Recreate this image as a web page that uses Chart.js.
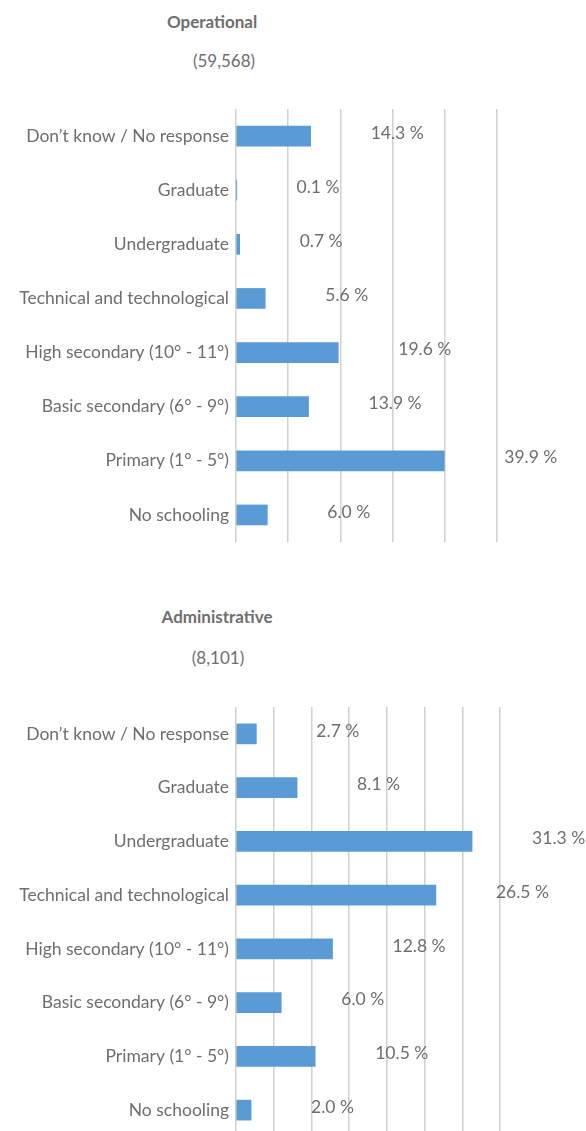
<!DOCTYPE html>
<html>
<head>
<meta charset="utf-8">
<script src="https://cdn.jsdelivr.net/npm/chart.js@4.4.0/dist/chart.umd.min.js"></script>
<style>
  html, body { margin: 0; padding: 0; background: #fff; overflow: hidden; }
  body { width: 586px; height: 1131px; position: relative; font-family: Lato, sans-serif; color: #6e6e6e; }
  .title, .sub { position: absolute; text-align: center; font-size: 17px; line-height: 20px; }
  .title { font-weight: bold; }
  .box { position: absolute; left: 0; width: 586px; }
</style>
</head>
<body>
<div class="title" style="top:12px;left:0;width:424px">Operational</div>
<div class="sub" style="top:51px;left:0;width:448px">(59,568)</div>
<div class="box" style="top:100px"><canvas id="chartOp" width="586" height="450"></canvas></div>

<div class="title" style="top:607px;left:0;width:434px">Administrative</div>
<div class="sub" style="top:648px;left:0;width:436px">(8,101)</div>
<div class="box" style="top:700px"><canvas id="chartAdm" width="586" height="440"></canvas></div>

<script>
const categories = [
  "Don’t know / No response",
  "Graduate",
  "Undergraduate",
  "Technical and technological",
  "High secondary (10° - 11°)",
  "Basic secondary (6° - 9°)",
  "Primary (1° - 5°)",
  "No schooling"
];
const operationalValues = [14.3, 0.1, 0.7, 5.6, 19.6, 13.9, 39.9, 6.0];
const administrativeValues = [2.7, 8.1, 31.3, 26.5, 12.8, 6.0, 10.5, 2.0];
const operationalAxis = { max: 50, step: 10 };
const administrativeAxis = { max: 35, step: 5 };

const TEXT = "#6e6e6e";
const BAR = "#5b9bd5";
const GRID = "#d0d0d0";
const FONT_SIZE = 17.5;

// percentage labels to the right of each bar
const valueLabels = {
  id: "valueLabels",
  afterDatasetsDraw(chart) {
    const ctx = chart.ctx;
    const values = chart.data.datasets[0].data;
    ctx.save();
    ctx.font = FONT_SIZE + "px Lato";
    ctx.fillStyle = TEXT;
    ctx.textAlign = "left";
    ctx.textBaseline = "middle";
    chart.getDatasetMeta(0).data.forEach((bar, i) => {
      ctx.fillText(values[i].toFixed(1) + " %", bar.x + 60, bar.y - 3);
    });
    ctx.restore();
  }
};

function makeChart(id, values, axis, padding) {
  return new Chart(document.getElementById(id), {
    type: "bar",
    data: {
      labels: categories,
      datasets: [{ data: values, backgroundColor: BAR, barThickness: 20 }]
    },
    options: {
      indexAxis: "y",
      responsive: false,
      animation: false,
      layout: { padding: padding },
      plugins: { legend: { display: false }, tooltip: { enabled: false } },
      scales: {
        x: {
          min: 0,
          max: axis.max,
          afterFit(scale) { scale.height = 0; },
          ticks: { display: false, stepSize: axis.step },
          grid: { color: GRID, lineWidth: 1.5, drawTicks: false },
          border: { display: false }
        },
        y: {
          afterFit(scale) {
            scale.width = 236;
            scale.paddingTop = 0;
            scale.paddingBottom = 0;
          },
          grid: { display: false, drawTicks: false },
          border: { display: false },
          ticks: { color: TEXT, padding: 7, font: { family: "Lato", size: FONT_SIZE } }
        }
      }
    },
    plugins: [valueLabels]
  });
}

makeChart("chartOp", operationalValues, operationalAxis, { top: 9, bottom: 8, left: 0, right: 89 });
makeChart("chartAdm", administrativeValues, administrativeAxis, { top: 7, bottom: 3, left: 0, right: 86 });
</script>
</body>
</html>
